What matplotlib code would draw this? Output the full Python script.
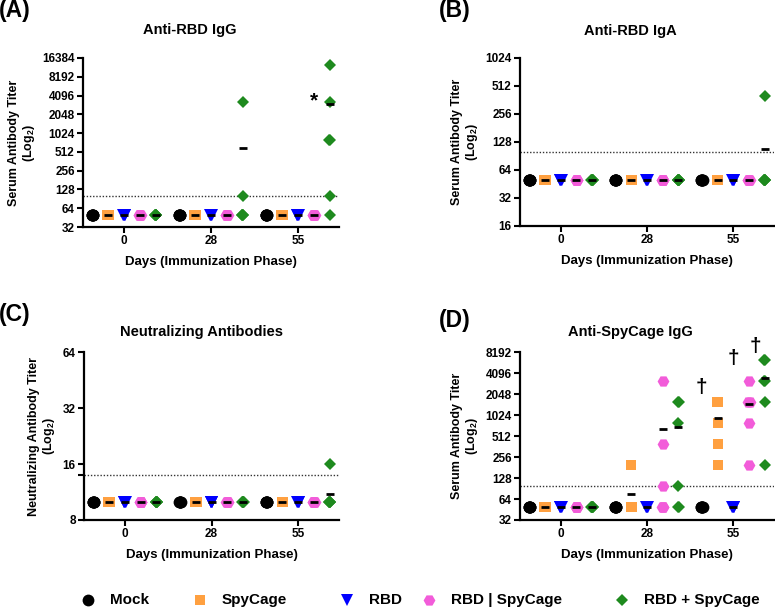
import matplotlib
matplotlib.use("Agg")
import matplotlib.pyplot as plt
import numpy as np
from matplotlib.lines import Line2D
from matplotlib.ticker import FixedLocator, FixedFormatter, NullLocator

plt.rcParams["font.family"] = ["Liberation Sans", "DejaVu Sans"]
plt.rcParams["font.weight"] = "bold"
plt.rcParams["mathtext.fontset"] = "custom"
plt.rcParams["mathtext.bf"] = "Liberation Sans:bold"
plt.rcParams["mathtext.rm"] = "Liberation Sans:bold"

DAYS = ["0", "28", "55"]
GROUPS = ["Mock", "SpyCage", "RBD", "RBD | SpyCage", "RBD + SpyCage"]
COLORS = ["#000000", "#FFA040", "#0000FF", "#F25CD9", "#1E8A1E"]
MARKERS = ["o", "s", "v", "H", "D"]
MSIZES = [8.5, 7.5, 8.5, 8.5, 6.5]

BASE = [50, 50, 50, 50, 50, 50]

# titers per group, per day (0, 28, 55)
rbd_igg_mock = [BASE, BASE, BASE]
rbd_igg_spycage = [BASE, BASE, BASE]
rbd_igg_rbd = [BASE, BASE, BASE]
rbd_igg_mix = [BASE, BASE, BASE]
rbd_igg_conj = [BASE, [3200, 100, 50, 50, 50, 50], [12800, 3200, 800, 800, 100, 50]]

rbd_iga_mock = [BASE, BASE, BASE]
rbd_iga_spycage = [BASE, BASE, BASE]
rbd_iga_rbd = [BASE, BASE, BASE]
rbd_iga_mix = [BASE, BASE, BASE]
rbd_iga_conj = [BASE, BASE, [400, 50, 50, 50, 50, 50]]

NEUT_BASE = [10, 10, 10, 10, 10, 10]
neut_mock = [NEUT_BASE, NEUT_BASE, NEUT_BASE]
neut_spycage = [NEUT_BASE, NEUT_BASE, NEUT_BASE]
neut_rbd = [NEUT_BASE, NEUT_BASE, NEUT_BASE]
neut_mix = [NEUT_BASE, NEUT_BASE, NEUT_BASE]
neut_conj = [NEUT_BASE, NEUT_BASE, [16, 10, 10, 10, 10, 10]]

cage_mock = [BASE, BASE, BASE]
cage_spycage = [BASE, [200, 50, 50, 50, 50, 50], [1600, 1600, 800, 400, 200]]
cage_rbd = [BASE, BASE, BASE]
cage_mix = [BASE, [3200, 400, 100, 50, 50, 50], [3200, 1600, 1600, 800, 200]]
cage_conj = [BASE, [1600, 1600, 800, 100, 50, 50], [6400, 6400, 3200, 3200, 1600, 200]]

GROUP_STEP = 5.5


def draw_panel(ax, series, yticks, cutoff, title, letter, ylabel, title_xy, letter_xy):
    fig = ax.figure
    for g, (per_day, color, marker, ms) in enumerate(zip(series, COLORS, MARKERS, MSIZES)):
        for d, values in enumerate(per_day):
            values = np.asarray(values, dtype=float)
            xc = d * GROUP_STEP + (g - 2)
            xs = np.full(values.shape, xc)
            # spread tied values a little, like the prism scatter
            for v in np.unique(values):
                idx = np.where(values == v)[0]
                if len(idx) > 1:
                    xs[idx] = xc + np.linspace(-0.05, 0.05, len(idx))
            ax.plot(xs, values, linestyle="none", marker=marker, ms=ms,
                    color=color, mew=0, zorder=3, clip_on=False)
            ax.plot([xc], [values.mean()], linestyle="none", marker="_", ms=6,
                    mew=2, color="black", zorder=4, clip_on=False)
    ax.axhline(cutoff, color="#333333", lw=1, ls=(0, (1, 1.3)), zorder=1)
    ax.set_yscale("log", base=2)
    ax.set_ylim(yticks[0], yticks[-1])
    ax.yaxis.set_major_locator(FixedLocator(yticks))
    ax.yaxis.set_major_formatter(FixedFormatter([str(t) for t in yticks]))
    ax.yaxis.set_minor_locator(NullLocator())
    ax.set_xlim(-2.6, 13.6)
    ax.set_xticks([d * GROUP_STEP for d in range(len(DAYS))])
    ax.set_xticklabels(DAYS)
    for side in ("top", "right"):
        ax.spines[side].set_visible(False)
    for side in ("left", "bottom"):
        ax.spines[side].set_linewidth(1.6)
    ax.tick_params(width=1.5, length=4, labelsize=8.5, pad=2)
    for lab in ax.get_xticklabels() + ax.get_yticklabels():
        lab.set_fontweight("bold")
    ax.set_xlabel("Days (Immunization Phase)", fontsize=9.5, fontweight="bold", labelpad=6)
    ax.set_ylabel(ylabel, fontsize=9, fontweight="bold", labelpad=4, linespacing=1.1)
    fig.text(title_xy[0] / 775, 1 - title_xy[1] / 609, title, ha="center", va="center",
             fontsize=10.5, fontweight="bold")
    fig.text(letter_xy[0] / 775, 1 - letter_xy[1] / 609, letter, ha="left", va="center",
             fontsize=16.5, fontweight="bold")


fig = plt.figure(figsize=(7.75, 6.09), dpi=100)
ax_a = fig.add_axes([83 / 775, 1 - 227 / 609, 256 / 775, 169 / 609])
ax_b = fig.add_axes([520 / 775, 1 - 226 / 609, 254 / 775, 168.3 / 609])
ax_c = fig.add_axes([84 / 775, 1 - 520 / 609, 255 / 775, 167.7 / 609])
ax_d = fig.add_axes([520 / 775, 1 - 520 / 609, 254 / 775, 167.7 / 609])

serum_label = "Serum Antibody Titer\n(Log$_\\mathbf{2}$)"
draw_panel(ax_a, [rbd_igg_mock, rbd_igg_spycage, rbd_igg_rbd, rbd_igg_mix, rbd_igg_conj],
           [32, 64, 128, 256, 512, 1024, 2048, 4096, 8192, 16384], 100,
           "Anti-RBD IgG", "(A)", serum_label, (190, 30), (-1, 11))
draw_panel(ax_b, [rbd_iga_mock, rbd_iga_spycage, rbd_iga_rbd, rbd_iga_mix, rbd_iga_conj],
           [16, 32, 64, 128, 256, 512, 1024], 100,
           "Anti-RBD IgA", "(B)", serum_label, (630, 31), (439, 11))
draw_panel(ax_c, [neut_mock, neut_spycage, neut_rbd, neut_mix, neut_conj],
           [8, 16, 32, 64], 14,
           "Neutralizing Antibodies", "(C)", "Neutralizing Antibody Titer\n(Log$_\\mathbf{2}$)",
           (202, 332), (-1, 314))
draw_panel(ax_d, [cage_mock, cage_spycage, cage_rbd, cage_mix, cage_conj],
           [32, 64, 128, 256, 512, 1024, 2048, 4096, 8192], 100,
           "Anti-SpyCage IgG", "(D)", serum_label, (630, 332), (439, 320))

# extra tick at the neutralization cutoff
ax_c.set_yticks([8, 14, 16, 32, 64])
ax_c.set_yticklabels(["8", "", "16", "32", "64"])
for lab in ax_c.get_yticklabels():
    lab.set_fontweight("bold")

# significance marks
ax_a.text(2 * GROUP_STEP + 1, 3400, "*", ha="center", va="center", fontsize=15, fontweight="bold")
for xg, yv in [(2 * GROUP_STEP - 2, 2600), (2 * GROUP_STEP, 6600), (2 * GROUP_STEP + 1.4, 10000)]:
    ax_d.text(xg, yv, "\u2020", ha="center", va="center", fontsize=15, fontweight="bold",
              clip_on=False)

# legend along the bottom
legend_marks = [88, 200, 347, 429, 622]
for name, color, marker, ms, xm in zip(GROUPS, COLORS, MARKERS, MSIZES, legend_marks):
    fig.add_artist(Line2D([xm / 775], [1 - 600 / 609], transform=fig.transFigure,
                          marker=marker, ms=ms, color=color, mew=0, linestyle="none"))
    fig.text((xm + 22) / 775, 1 - 600 / 609, name, ha="left", va="center",
             fontsize=11, fontweight="bold")

fig.savefig("out.png", dpi=100)
